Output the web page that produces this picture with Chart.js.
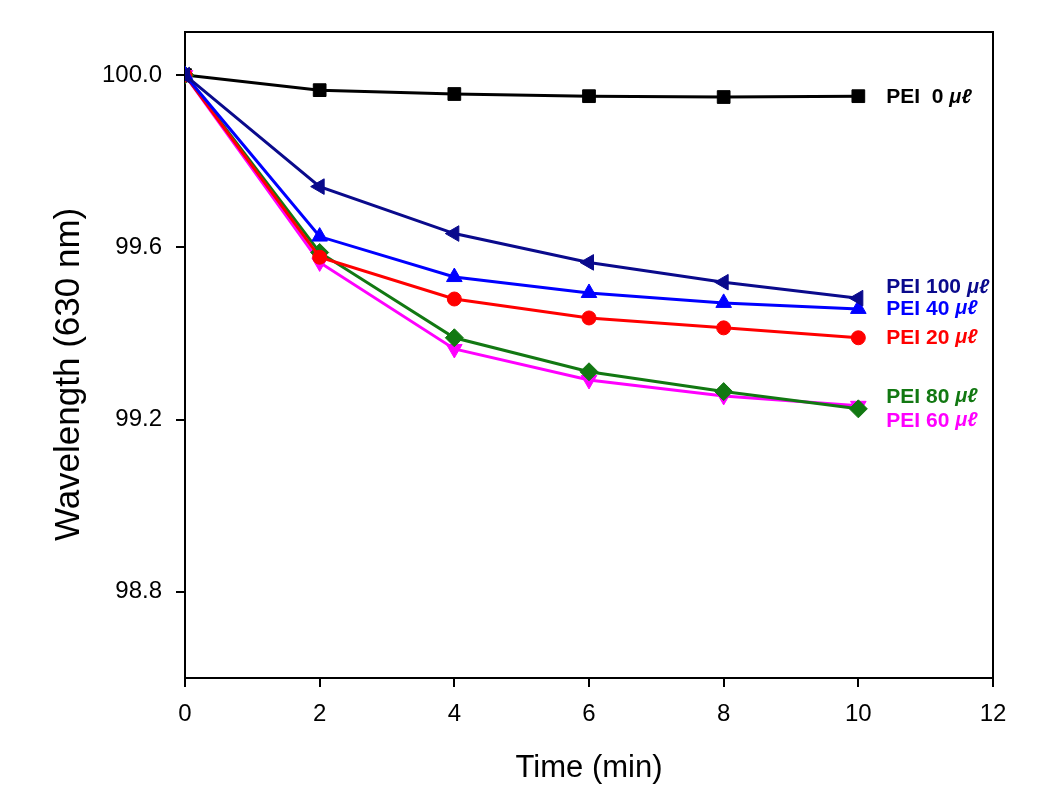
<!DOCTYPE html>
<html lang="en">
<head>
<meta charset="UTF-8">
<title>Wavelength vs Time</title>
<script src="https://cdn.jsdelivr.net/npm/chart.js"></script>
<style>
  html, body { margin: 0; padding: 0; background: #fff; }
</style>
</head>
<body>
<canvas id="chart" width="1062" height="798"></canvas>
<script>
  // data
  const times = [0, 2, 4, 6, 8, 10];
  const seriesNames = ['PEI  0', 'PEI 100', 'PEI 40', 'PEI 20', 'PEI 80', 'PEI 60'];
  const pei0   = [100.0, 99.965, 99.956, 99.951, 99.949, 99.951];
  const pei100 = [100.0, 99.741, 99.632, 99.565, 99.519, 99.482];
  const pei40  = [100.0, 99.625, 99.531, 99.494, 99.471, 99.457];
  const pei20  = [100.0, 99.577, 99.480, 99.436, 99.413, 99.390];
  const pei80  = [100.0, 99.588, 99.390, 99.311, 99.265, 99.225];
  const pei60  = [100.0, 99.565, 99.364, 99.292, 99.255, 99.232];
  const yTicks = [98.8, 99.2, 99.6, 100.0];
  const xTicks = [0, 2, 4, 6, 8, 10, 12];

  const colors = ['#000000', '#0a0a8c', '#0000ff', '#ff0000', '#127812', '#ff00ff'];
  const shapes = ['rect', 'triangle', 'triangle', 'circle', 'rectRot', 'triangle'];
  const rotations = [0, -90, 0, 0, 0, 180];
  const radii = [9, 9, 9, 7, 9, 9];
  const drawOrder = [6, 1, 2, 3, 4, 5];   // lower = on top
  const labelShift = [1, -11, 0, 0, -12, 15];
  const allValues = [pei0, pei100, pei40, pei20, pei80, pei60];

  const datasets = allValues.map((vals, i) => ({
    label: seriesNames[i],
    data: vals.map((v, j) => ({ x: times[j], y: v })),
    borderColor: colors[i],
    backgroundColor: colors[i],
    borderWidth: 3,
    pointStyle: shapes[i],
    rotation: rotations[i],
    pointRadius: radii[i],
    pointHoverRadius: radii[i],
    pointBorderWidth: 1,
    order: drawOrder[i],
    tension: 0,
    fill: false
  }));

  // box around the plot
  const frame = {
    id: 'frame',
    beforeDatasetsDraw(chart) {
      const { ctx, chartArea: a } = chart;
      ctx.save();
      ctx.strokeStyle = '#000';
      ctx.lineWidth = 2;
      ctx.strokeRect(a.left, a.top, a.right - a.left, a.bottom - a.top);
      ctx.restore();
    }
  };

  // series names written next to the last point
  const endLabels = {
    id: 'endLabels',
    afterDatasetsDraw(chart) {
      const ctx = chart.ctx;
      ctx.save();
      ctx.textBaseline = 'middle';
      chart.data.datasets.forEach((ds, i) => {
        const pts = chart.getDatasetMeta(i).data;
        const p = pts[pts.length - 1];
        const x = p.x + 28;
        const y = p.y + labelShift[i];
        ctx.fillStyle = colors[i];
        ctx.font = 'bold 21px "Liberation Sans", Arial, sans-serif';
        const txt = ds.label + ' ';
        ctx.fillText(txt, x, y);
        const w = ctx.measureText(txt).width;
        ctx.font = 'italic bold 20px "Liberation Sans", "DejaVu Sans", sans-serif';
        ctx.fillText('\u03bc\u2113', x + w, y);
      });
      ctx.restore();
    }
  };

  new Chart(document.getElementById('chart'), {
    type: 'line',
    data: { datasets },
    options: {
      responsive: false,
      animation: false,
      layout: { padding: { top: 32, right: 69, left: 0, bottom: 0 } },
      plugins: { legend: { display: false }, tooltip: { enabled: false } },
      scales: {
        x: {
          type: 'linear',
          min: 0, max: 12,
          afterFit: s => { s.height = 120; },
          afterBuildTicks: s => { s.ticks = xTicks.map(v => ({ value: v })); },
          grid: { display: true, drawOnChartArea: false, drawTicks: true, tickLength: 9, color: '#000', lineWidth: 2 },
          border: { display: true, color: '#000', width: 2 },
          ticks: { color: '#000', padding: 13, maxRotation: 0, font: { family: '"Liberation Sans", Arial', size: 24 } },
          title: { display: true, text: 'Time (min)', color: '#000', padding: { top: 0, bottom: 11 }, font: { family: '"Liberation Sans", Arial', size: 31 } }
        },
        y: {
          min: 98.6, max: 100.1,
          afterFit: s => { s.width = 185; },
          afterBuildTicks: s => { s.ticks = yTicks.map(v => ({ value: v })); },
          grid: { display: true, drawOnChartArea: false, drawTicks: true, tickLength: 9, color: '#000', lineWidth: 2 },
          border: { display: true, color: '#000', width: 2 },
          ticks: { color: '#000', padding: 14, font: { family: '"Liberation Sans", Arial', size: 24 }, callback: v => v.toFixed(1) },
          // trailing spaces nudge the centred title toward the bottom, as in the original
          title: { display: true, text: 'Wavelength (630 nm)    ', color: '#000', padding: { top: 48, bottom: 0 }, font: { family: '"Liberation Sans", Arial', size: 35 } }
        }
      }
    },
    plugins: [frame, endLabels]
  });
</script>
</body>
</html>
